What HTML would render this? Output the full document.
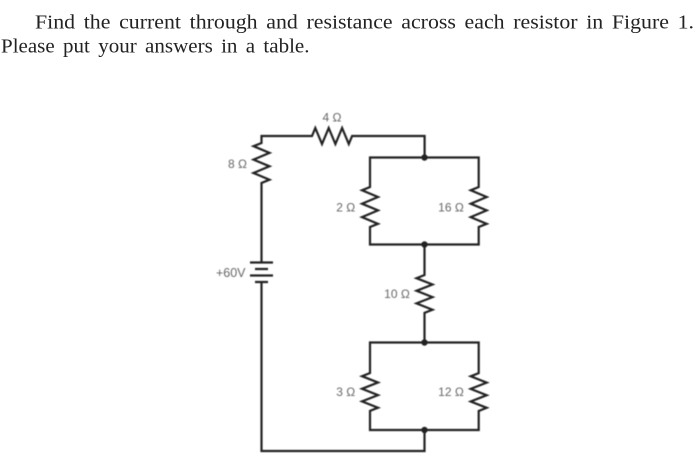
<!DOCTYPE html>
<html>
<head>
<meta charset="utf-8">
<style>
html,body{margin:0;padding:0;background:#fff;width:700px;height:467px;overflow:hidden}
svg{display:block}
.t{font-family:"Liberation Serif",serif;font-size:20.5px;word-spacing:3px;fill:#222}
.l{font-family:"Liberation Sans",sans-serif;font-size:12px;fill:#666}
.w{fill:none;stroke:#222;stroke-width:2.200;stroke-linejoin:miter}
</style>
</head>
<body>
<svg width="700" height="467" viewBox="0 0 700 467" xmlns="http://www.w3.org/2000/svg">
<g style="filter:blur(0.35px)">
<text class="t" x="35" y="28.500" textLength="659" lengthAdjust="spacingAndGlyphs">Find the current through and resistance across each resistor in Figure 1.</text>
<text class="t" x="1" y="52.500" textLength="308.500" lengthAdjust="spacingAndGlyphs">Please put your answers in a table.</text>
</g>
<g style="filter:blur(0.4px)">
<!-- main loop: battery to 8 ohm to 4 ohm to junction -->
<path class="w" d="M261.500 262V183l8-3.300-16-6.700 16-6.700-16-6.700 16-6.700-16-6.700 8-3.200V136H312l3.300-8 6.700 16 6.700-16 6.700 16 6.700-16 6.700 16 3.300-8h72.500v21.700"/>
<!-- upper parallel: 2 ohm and 16 ohm -->
<path class="w" d="M424.500 157.500H370V187l-8 3.300 16 6.700-16 6.700 16 6.700-16 6.700 16 6.700-8 3.200V244.500h108.700V227l8-3.200-16-6.700 16-6.700-16-6.700 16-6.700-16-6.700 8-3.300V157.500H424.500"/>
<!-- 10 ohm series -->
<path class="w" d="M424.500 244.500V275l-8 3.200 16 6.300-16 6.300 16 6.300-16 6.300 16 6.300-8 3.200V342.500"/>
<!-- lower parallel: 3 ohm and 12 ohm -->
<path class="w" d="M424.500 342.500H370V373l-8 3.200 16 6.300-16 6.300 16 6.300-16 6.300 16 6.300-8 3.200V430h108.700V411l8-3.200-16-6.300 16-6.300-16-6.300 16-6.300-16-6.300 8-3.200V342.500H424.500"/>
<!-- return wire -->
<path class="w" d="M424.500 430V451H261.500V282"/>
<!-- battery -->
<path class="w" d="M250 262.500H273M255 269H268M250 275.500H273M255 282H268"/>
<!-- junction dots -->
<circle cx="424.500" cy="157.500" r="3.200" fill="#222"/>
<circle cx="424.500" cy="244.500" r="3.200" fill="#222"/>
<circle cx="424.500" cy="342.500" r="3.200" fill="#222"/>
<circle cx="424.500" cy="430" r="3.200" fill="#222"/>
<!-- labels -->
<text class="l" x="332" y="121.500" text-anchor="middle">4 Ω</text>
<text class="l" x="237.500" y="168" text-anchor="middle">8 Ω</text>
<text class="l" x="345.700" y="211.500" text-anchor="middle">2 Ω</text>
<text class="l" x="451" y="211.500" text-anchor="middle">16 Ω</text>
<text class="l" x="245.500" y="277" text-anchor="end" style="font-size:12.500px">+60V</text>
<text class="l" x="397" y="298" text-anchor="middle">10 Ω</text>
<text class="l" x="345.700" y="396" text-anchor="middle">3 Ω</text>
<text class="l" x="451" y="396" text-anchor="middle">12 Ω</text>
</g>
</svg>
</body>
</html>
